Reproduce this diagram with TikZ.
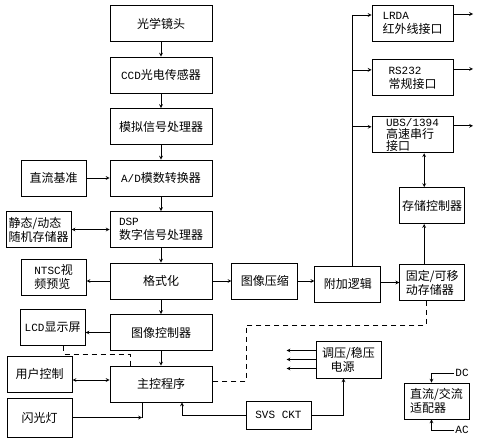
\documentclass[tikz,border=0pt]{standalone}
\usepackage{fontspec}
\newfontfamily\cjk{Noto Sans CJK SC}
\newfontfamily\monofam{Liberation Mono}
\newcommand{\entext}[1]{{\monofam\fontsize{11}{12}\selectfont #1}}
\usetikzlibrary{arrows, positioning}

\begin{document}
\begin{tikzpicture}[x=1pt, y=-1pt, >=stealth, line width=0.7pt, node distance=14.6pt,
    blk/.style={rectangle, draw, line width=0.9pt, inner sep=1pt, align=left,
        font=\cjk\fontsize{12}{14}\selectfont},
    wide/.style={blk, minimum width=102pt, minimum height=36pt},
    side/.style={blk, minimum width=65pt, minimum height=36pt},
    iface/.style={blk, minimum width=81pt, minimum height=36pt},
    lbl/.style={inner sep=1pt}]
    \useasboundingbox (0,0) rectangle (479,441);

    \node [wide] (lens) at (161,23.5) {光学镜头};
    \node [wide, below=of lens] (ccd) {\entext{CCD}光电传感器};
    \node [wide, below=of ccd] (analog) {模拟信号处理器};
    \node [wide, below=of analog] (adc) {\entext{A/D}模数转换器};
    \node [wide, below=of adc] (dsp) {\entext{DSP}\\数字信号处理器};
    \node [wide, below=of dsp] (fmt) {格式化};
    \node [wide, below=of fmt] (imgctl) {图像控制器};
    \node [wide, below=of imgctl] (mcu) {主控程序};

    \node [side, left=23pt of adc] (dcref) {直流基准};
    \node [side, left=38pt of dsp] (ram) {静态/动态\\随机存储器};
    \node [side, left=23pt of fmt, yshift=4pt] (ntsc) {\entext{NTSC}视\\频预览};
    \node [side, left=24pt of imgctl, yshift=5pt] (lcd) {\entext{LCD}显示屏};
    \node [side, left=37pt of mcu, yshift=10pt] (user) {用户控制};
    \node [side, minimum height=39pt] (flash) at (39.5,417.5) {闪光灯};

    \node [side, minimum width=66pt, right=19pt of fmt] (compress) {图像压缩};
    \node [side, minimum width=66pt, right=16pt of compress, yshift=-3pt] (logic) {附加逻辑};
    \node [side, right=18pt of logic, yshift=1.5pt] (storage) {固定/可移\\动存储器};
    \node [side, above=40pt of storage] (memctl) {存储控制器};

    \node [iface] (irda) at (412.5,23) {\entext{LRDA}\\红外线接口};
    \node [iface, below=18pt of irda] (rs232) {\entext{RS232}\\常规接口};
    \node [iface, below=20pt of rs232, font=\cjk\fontsize{12}{12}\selectfont] (usb) {\entext{UBS/1394}\\高速串行\\接口};

    \node [side, minimum height=37pt] (power) at (348.5,359.5) {调压/稳压\\\hspace*{0.7em}电源};
    \node [side, minimum height=28pt] (svs) at (278.5,415) {\entext{SVS CKT}};
    \node [side] (adapter) at (436.5,401) {直流/交流\\适配器};
    \node [lbl] (dclbl) at (462,373) {\entext{DC}};
    \node [lbl] (aclbl) at (462,430) {\entext{AC}};

    \foreach \a/\b in {lens/ccd, ccd/analog, analog/adc, adc/dsp, dsp/fmt, fmt/imgctl, imgctl/mcu}
        \draw[->] (\a) -- (\b);

    \draw[->] (dcref) -- (adc);
    \draw[<->] (ram) -- (dsp);
    \draw[->] (fmt.west) -- (fmt.west -| ntsc.east);
    \draw[->] (imgctl.west) -- (imgctl.west -| lcd.east);
    \draw[<->] ([yshift=4pt]mcu.west) -- ([yshift=4pt]mcu.west -| user.east);
    \draw[dashed, dash pattern=on 5pt off 4pt] ([xshift=11pt]lcd.south) -- ++(0,8) -| ([xshift=-31pt]mcu.north);

    \coordinate (flk) at ([xshift=-19pt]mcu.south |- flash.east);
    \draw[->] (flash.east) -- (flk);
    \draw (flk) -- (flk |- mcu.south);
    \draw[->] (svs.west) -| ([xshift=21pt]mcu.south);
    \draw[->] (svs.east) -| ([xshift=-5pt]power.south);
    \foreach \i/\dy in {1/9, 2/0, 3/-9} {
        \coordinate (pw\i) at ([xshift=-29pt, yshift=\dy pt]power.west);
        \draw[->] ([yshift=\dy pt]power.west) -- (pw\i);
    }

    \draw[->] (fmt) -- (compress);
    \draw[->] (compress) -- (compress -| logic.west);
    \draw[->] (storage.west -| logic.east) -- (storage.west);
    \draw[->] ([xshift=-8pt]storage.north) -- ([xshift=-8pt]memctl.south);
    \draw[<->] ([xshift=-8pt]memctl.north) -- ([xshift=-8pt]memctl.north |- usb.south);

    \coordinate (bus) at (352,0);
    \coordinate (outr) at (473,0);
    \draw ([yshift=8pt]irda.west -| bus) -- (logic.north -| bus);
    \foreach \n in {irda, rs232, usb} {
        \draw[->] ([yshift=8pt]\n.west -| bus) -- ([yshift=8pt]\n.west);
        \draw[->] ([yshift=9pt]\n.east) -- ([yshift=9pt]\n.east -| outr);
    }

    \coordinate (dk) at (246,325);
    \draw[dashed, dash pattern=on 5pt off 4pt] ([xshift=-6pt]storage.south) |- (dk) |- ([yshift=3pt]mcu.east);

    \draw[->] (dclbl.west) -| ([xshift=-5pt]adapter.north);
    \draw[->] (aclbl.west) -| ([xshift=-5pt]adapter.south);
\end{tikzpicture}
\end{document}
